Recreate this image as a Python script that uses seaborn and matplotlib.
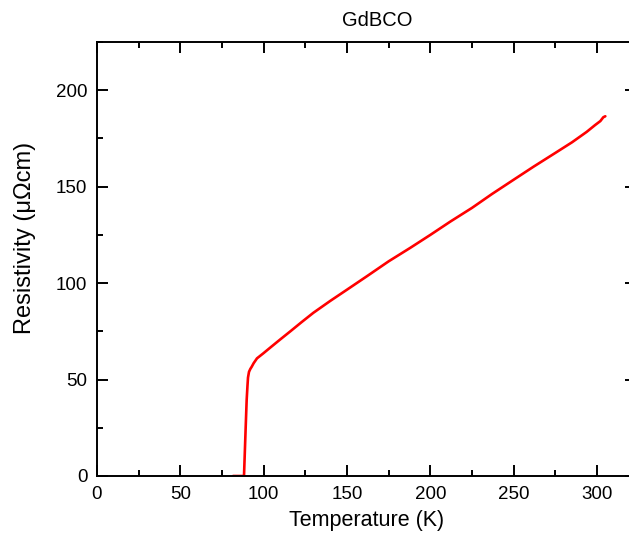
import matplotlib
matplotlib.use("Agg")
import matplotlib.pyplot as plt
from matplotlib.ticker import MultipleLocator
import seaborn as sns
import pandas as pd

temperature = [81.6, 88.2, 88.6, 89.2, 89.8, 90.3, 90.6, 91.2, 92.0, 92.8, 94.0, 96.0,
               99.8, 104.0, 109.8, 116.0, 122.8, 129.8, 140.0, 150.0, 162.0, 175.0,
               188.0, 200.0, 212.0, 225.0, 237.0, 250.0, 262.0, 275.0, 285.0,
               293.8, 298.8, 302.0, 303.8, 305.0]
resistivity = [0, 0, 10, 25, 39.4, 47, 51, 54, 55.5, 56.6, 58.5, 61,
               63.6, 66.6, 70.7, 75.0, 79.8, 84.6, 90.8, 96.6, 103.6, 111.3,
               118.3, 125.0, 131.9, 139.0, 146.2, 153.6, 160.4, 167.5, 173.0,
               178.4, 181.9, 184, 186, 186.5]
x_ticks = [0, 50, 100, 150, 200, 250, 300]
y_ticks = [0, 50, 100, 150, 200]

sns.set_style("ticks")
plt.rcParams['font.family'] = ['Liberation Sans', 'DejaVu Sans']
plt.rcParams['text.color'] = 'black'
plt.rcParams['axes.labelcolor'] = 'black'

df = pd.DataFrame({"T": temperature, "R": resistivity})

W, H = 629, 539
fig = plt.figure(figsize=(W / 100, H / 100), dpi=100)
xmax, ymax = 323.4, 225.0
left, right, bottom, top = 97, 636, 63, 497
ax = fig.add_axes([left / W, bottom / H, (right - left) / W, (top - bottom) / H])

sns.lineplot(data=df, x="T", y="R", ax=ax, color="#ff0000", linewidth=1.9,
             estimator=None, sort=False)

ax.set_xlim(0, xmax)
ax.set_ylim(0, ymax)
ax.set_xticks(x_ticks)
ax.set_yticks(y_ticks)
ax.xaxis.set_minor_locator(MultipleLocator(25))
ax.yaxis.set_minor_locator(MultipleLocator(25))

for s in ax.spines.values():
    s.set_visible(True)
    s.set_linewidth(1.4)
    s.set_color("black")

ax.tick_params(which="major", direction="in", length=8, width=1.4, labelsize=13.5,
               top=True, right=True, colors="black", labelcolor="black", pad=7)
ax.tick_params(which="minor", direction="in", length=4, width=1.4,
               top=True, right=True, colors="black")

ax.set_xlabel("Temperature (K)", fontsize=15.5, labelpad=5, color="black")
ax.set_ylabel("Resistivity (\u03bc\u03a9cm)", fontsize=17, color="black",
              va="center")
ax.yaxis.set_label_coords((25 - left) / (right - left), (476 - 238) / (476 - 42))
fig.text(377 / W, 1 - 21 / H, "GdBCO", ha="center", va="center", fontsize=14.5,
         color="black")

fig.savefig("out.png", dpi=100)
